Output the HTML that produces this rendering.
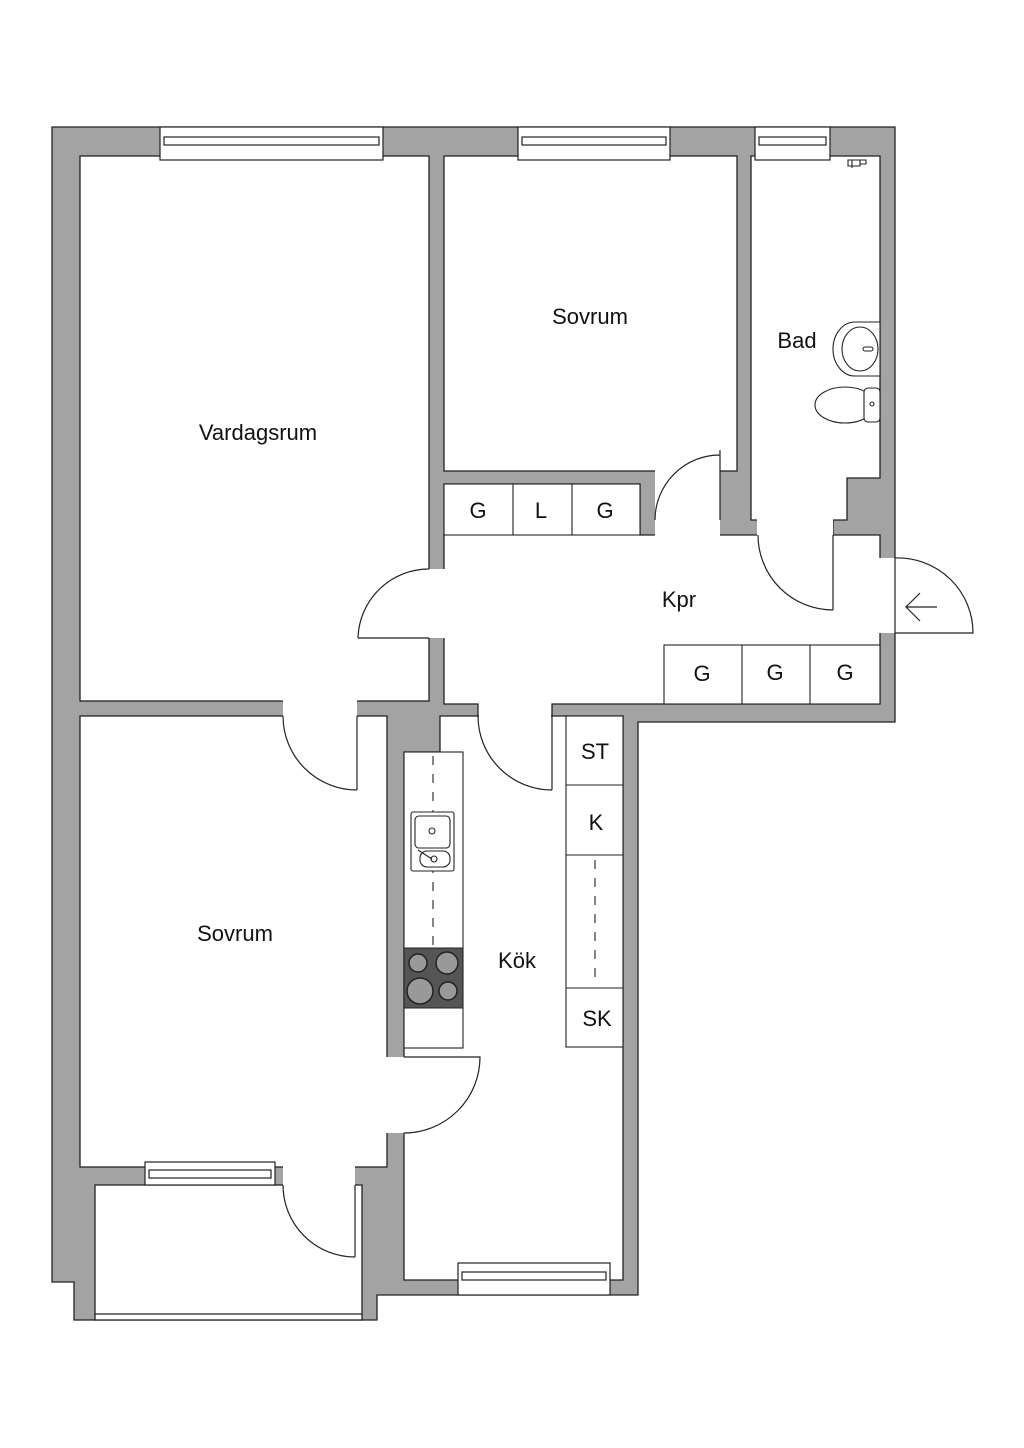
<!DOCTYPE html>
<html><head><meta charset="utf-8"><style>
html,body{margin:0;padding:0;background:#fff;}
svg{display:block;}
text{font-family:"Liberation Sans",sans-serif;fill:#111;}
</style></head><body>
<svg width="1024" height="1448" viewBox="0 0 1024 1448" xmlns="http://www.w3.org/2000/svg">
<rect width="1024" height="1448" fill="#fff"/>
<g stroke="#222" stroke-width="1.3">
<polygon fill="#a3a3a3" points="52,127 895,127 895,722 638,722 638,1295 377,1295 377,1320 74,1320 74,1282 52,1282"/>
<rect fill="#fff" x="80" y="156" width="349" height="545"/>
<rect fill="#fff" x="444" y="156" width="293" height="315"/>
<polygon fill="#fff" points="751,156 880,156 880,478 847,478 847,520 833,520 833,535 758,535 758,520 751,520"/>
<polygon fill="#fff" points="444,484 640,484 640,535 880,535 880,704 552,704 552,716 478,716 478,704 444,704"/>
<polygon fill="#fff" points="404,752 440,752 440,716 623,716 623,1280 404,1280"/>
<rect fill="#fff" x="80" y="716" width="307" height="451"/>
<rect fill="#fff" x="95" y="1185" width="267" height="135"/>
</g>
<g fill="#fff">
<rect x="428" y="569" width="17" height="69"/>
<rect x="655" y="470" width="65" height="66"/>
<rect x="757" y="519" width="76" height="17"/>
<rect x="879" y="558" width="17" height="75"/>
<rect x="283" y="700" width="74" height="17"/>
<rect x="386" y="1057" width="19" height="76"/>
<rect x="283" y="1166" width="72" height="20"/>
<rect x="479" y="703" width="72" height="14"/>
</g>
<g fill="none" stroke="#222" stroke-width="1.2">
<path d="M358,638 H429 M358,638 A71,71 0 0 1 429,569"/>
<path d="M720,450 V520 M655,520 A65,65 0 0 1 720,455"/>
<path d="M833,535 V610 M758,535 A75,75 0 0 0 833,610"/>
<path d="M895,633 H973 A75,75 0 0 0 895,558"/>
<path d="M895,558 V633"/>
<path d="M357,716 V790 M283,716 A74,74 0 0 0 357,790"/>
<path d="M552,716 V790 M478,716 A74,74 0 0 0 552,790"/>
<path d="M404,1057 H480 A76,76 0 0 1 404,1133"/>
<path d="M355,1185 V1257 M283,1185 A72,72 0 0 0 355,1257"/>
<path d="M937,607 H906 M920,593 L906,607 L920,621"/>
<path d="M95,1314 H362"/>
</g>
<g fill="#fff" stroke="#222" stroke-width="1.2">
<rect x="160" y="127" width="223" height="33"/>
<rect x="164" y="137" width="215" height="8"/>
<rect x="518" y="127" width="152" height="33"/>
<rect x="522" y="137" width="144" height="8"/>
<rect x="755" y="127" width="75" height="33"/>
<rect x="759" y="137" width="67" height="8"/>
<rect x="145" y="1162" width="130" height="23"/>
<rect x="149" y="1170" width="122" height="8"/>
<rect x="458" y="1263" width="152" height="32"/>
<rect x="462" y="1272" width="144" height="8"/>
</g>
<g fill="#fff" stroke="#222" stroke-width="1.1">
<rect x="444" y="484" width="196" height="51"/>
<path d="M513,484 V535 M572,484 V535"/>
<rect x="664" y="645" width="216" height="59"/>
<path d="M742,645 V704 M810,645 V704"/>
<rect x="566" y="716" width="57" height="331"/>
<path d="M566,785 H623 M566,855 H623 M566,988 H623"/>
<rect x="404" y="752" width="59" height="296"/>
</g>
<g stroke="#222" stroke-width="1.1" stroke-dasharray="9,9" fill="none">
<path d="M433,756 V945"/>
<path d="M595,860 V985"/>
</g>
<g fill="#fff" stroke="#222" stroke-width="1.1">
<rect x="411" y="812" width="43" height="59" rx="2"/>
<rect x="415" y="816" width="35" height="32" rx="4"/>
<rect x="420" y="851" width="30" height="16" rx="7"/>
<circle cx="432" cy="831" r="3"/>
<circle cx="434" cy="859" r="3"/>
<path d="M418,850 L432,859"/>
</g>
<rect x="404" y="948" width="59" height="60" fill="#555" stroke="#222"/>
<g fill="#999" stroke="#222" stroke-width="1.5">
<circle cx="418" cy="963" r="9"/>
<circle cx="447" cy="963" r="11"/>
<circle cx="420" cy="991" r="13"/>
<circle cx="448" cy="991" r="9"/>
</g>
<g fill="#fff" stroke="#222" stroke-width="1.1">
<path d="M880,322 H855 A22,27 0 0 0 855,376 H880 Z"/>
<ellipse cx="860" cy="349" rx="18" ry="22"/>
<rect x="863" y="347" width="10" height="4" rx="2"/>
<ellipse cx="845" cy="405" rx="30" ry="18"/>
<rect x="864" y="388" width="16" height="34" rx="4"/>
<circle cx="872" cy="404" r="2"/>
<path d="M848,160 h12 v6 h-12 z M852,160 v8 M860,160 h6 v4 h-6"/>
</g>
<g font-size="22" text-anchor="middle">
<text x="258" y="440">Vardagsrum</text>
<text x="590" y="324">Sovrum</text>
<text x="797" y="348">Bad</text>
<text x="679" y="607">Kpr</text>
<text x="235" y="941">Sovrum</text>
<text x="517" y="968">Kök</text>
<text x="478" y="518">G</text>
<text x="541" y="518">L</text>
<text x="605" y="518">G</text>
<text x="702" y="681">G</text>
<text x="775" y="680">G</text>
<text x="845" y="680">G</text>
<text x="595" y="759">ST</text>
<text x="596" y="830">K</text>
<text x="597" y="1026">SK</text>
</g>
</svg>
</body></html>
